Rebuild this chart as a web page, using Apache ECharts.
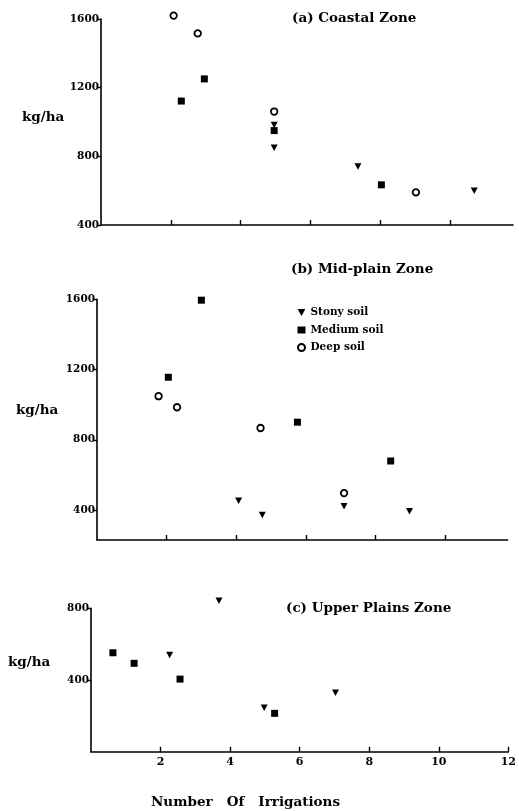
<!DOCTYPE html>
<html><head><meta charset="utf-8">
<script src="https://cdn.jsdelivr.net/npm/echarts@6/dist/echarts.min.js"></script>
<style>html,body{margin:0;padding:0;background:#fff}#c{width:519px;height:811px}</style>
</head><body><div id="c"></div>
<script>
// ---- data ----
const xTickValues = [2, 4, 6, 8, 10];
const xTickLabelsC = [2, 4, 6, 8, 10, 12];
const yTicksAB = [400, 800, 1200, 1600];
const yTicksC = [400, 800];
const titles = ['(a) Coastal Zone', '(b) Mid-plain Zone', '(c) Upper Plains Zone'];
const soilNames = ['Stony soil', 'Medium soil', 'Deep soil'];
const yLabel = 'kg/ha';
const xLabel = 'Number   Of   Irrigations';

const coastalStony  = [[4.96, 983], [4.96, 850], [7.36, 741], [10.69, 599]];
const coastalMedium = [[2.30, 1122], [2.96, 1251], [4.96, 950], [8.03, 634]];
const coastalDeep   = [[2.08, 1620], [2.77, 1516], [4.96, 1061], [9.02, 590]];

const midStony  = [[4.07, 453], [4.75, 371], [7.10, 421], [8.98, 393]];
const midMedium = [[2.05, 1156], [3.00, 1595], [5.76, 900], [8.44, 679]];
const midDeep   = [[1.77, 1048], [2.30, 985], [4.70, 867], [7.10, 496]];

const upperStony  = [[2.26, 539], [3.68, 842], [4.98, 245], [7.03, 329]];
const upperMedium = [[0.63, 552], [1.24, 493], [2.56, 405], [5.28, 214]];

// ---- styling ----
const INK = '#000';
const FONT = 'DejaVu Serif';
const TRI = 'path://M0,0L10,0L5,9Z';
const symbolStyles = {
  'Stony soil':  { symbol: TRI, symbolSize: [7, 6.5], itemStyle: { color: INK, opacity: 1 } },
  'Medium soil': { symbol: 'rect', symbolSize: 7, itemStyle: { color: INK, opacity: 1 } },
  'Deep soil':   { symbol: 'circle', symbolSize: 6.5, itemStyle: { color: '#fff', borderColor: INK, borderWidth: 1.8, opacity: 1 } }
};

function xAxis(idx, max, withLabels) {
  return {
    type: 'value', gridIndex: idx, min: 0, max: max,
    axisLine: { show: true, lineStyle: { color: INK, width: 1.6 } },
    axisTick: { show: true, inside: true, length: 5, lineStyle: { color: INK, width: 1.4 },
      customValues: withLabels ? xTickLabelsC : xTickValues },
    axisLabel: withLabels ? { show: true, customValues: xTickLabelsC, margin: 5,
      color: INK, fontFamily: FONT, fontWeight: 'bold', fontSize: 11 } : { show: false },
    splitLine: { show: false }
  };
}
function yAxis(idx, min, max, ticks) {
  return {
    type: 'value', gridIndex: idx, min: min, max: max,
    axisLine: { show: true, lineStyle: { color: INK, width: 1.6 } },
    axisTick: { show: true, length: 4, customValues: ticks, lineStyle: { color: INK, width: 1.4 } },
    axisLabel: { show: true, customValues: ticks, margin: 2, color: INK,
      fontFamily: FONT, fontWeight: 'bold', fontSize: 10.5, formatter: v => String(v) },
    splitLine: { show: false }
  };
}
function scatter(name, data, idx) {
  return Object.assign({
    type: 'scatter', name: name, data: data, xAxisIndex: idx, yAxisIndex: idx, clip: false
  }, symbolStyles[name]);
}
const titleStyle = { color: INK, fontFamily: FONT, fontWeight: 'bold', fontSize: 13.5 };
const labelStyle = { fill: INK, font: 'bold 13.5px "DejaVu Serif"' };

const option = {
  animation: false,
  backgroundColor: '#fff',
  title: [
    { text: titles[0], left: 292, top: 11, padding: 0, textStyle: titleStyle },
    { text: titles[1], left: 291, top: 262, padding: 0, textStyle: titleStyle },
    { text: titles[2], left: 286, top: 601, padding: 0, textStyle: titleStyle }
  ],
  legend: {
    data: soilNames, orient: 'vertical', left: 297, top: 307, padding: 0,
    itemWidth: 8, itemHeight: 7, itemGap: 6.5,
    textStyle: { color: INK, fontFamily: FONT, fontWeight: 'bold', fontSize: 10.5, lineHeight: 11 }
  },
  grid: [
    { left: 101, top: 19, width: 412, height: 206 },
    { left: 97, top: 299.3, width: 410.6, height: 240.7 },
    { left: 91, top: 608.3, width: 419, height: 143.4 }
  ],
  xAxis: [xAxis(0, 11.8, false), xAxis(1, 11.8, false), xAxis(2, 12, true)],
  yAxis: [yAxis(0, 400, 1600, yTicksAB), yAxis(1, 229, 1600, yTicksAB), yAxis(2, 0, 800, yTicksC)],
  series: [
    scatter('Stony soil', coastalStony, 0),
    scatter('Medium soil', coastalMedium, 0),
    scatter('Deep soil', coastalDeep, 0),
    scatter('Stony soil', midStony, 1),
    scatter('Medium soil', midMedium, 1),
    scatter('Deep soil', midDeep, 1),
    scatter('Stony soil', upperStony, 2),
    scatter('Medium soil', upperMedium, 2)
  ],
  graphic: [
    { type: 'text', left: 22, top: 110, style: Object.assign({ text: yLabel }, labelStyle) },
    { type: 'text', left: 16, top: 403, style: Object.assign({ text: yLabel }, labelStyle) },
    { type: 'text', left: 8, top: 655, style: Object.assign({ text: yLabel }, labelStyle) },
    { type: 'text', left: 151, top: 795, style: Object.assign({ text: xLabel }, labelStyle) }
  ]
};
const chart = echarts.init(document.getElementById('c'), null, { renderer: 'canvas' });
chart.setOption(option);
</script>
</body></html>
